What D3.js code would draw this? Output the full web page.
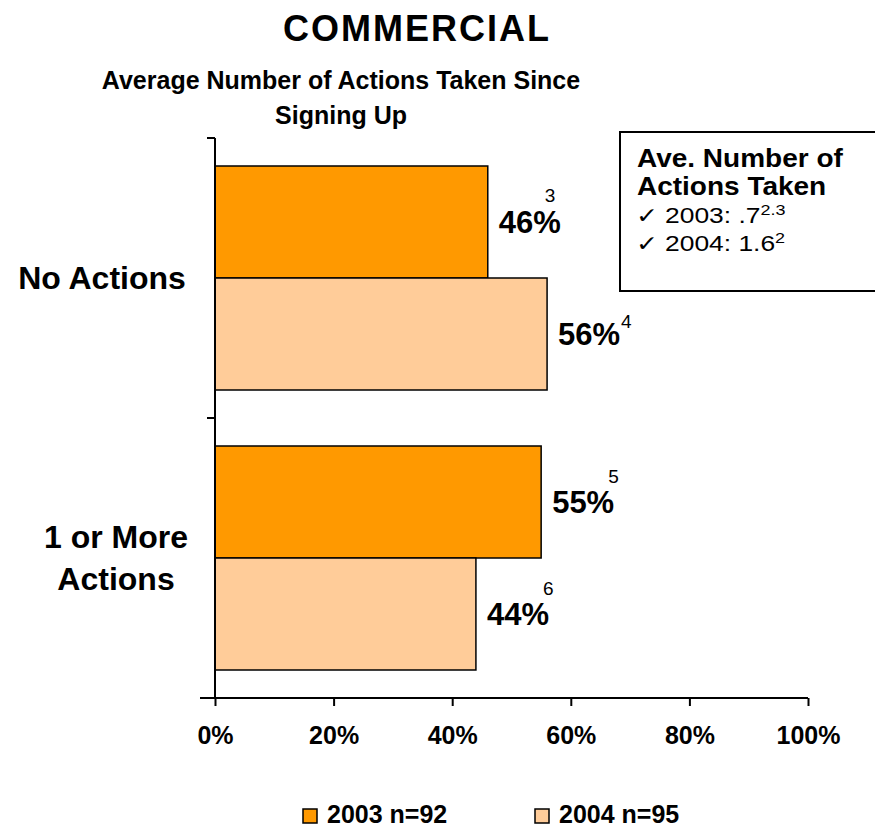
<!DOCTYPE html>
<html>
<head>
<meta charset="utf-8">
<script src="https://cdn.jsdelivr.net/npm/d3@7"></script>
<style>
  html, body { margin: 0; padding: 0; background: #fff; }
  svg { display: block; font-family: Arial, "Liberation Sans", sans-serif; }
</style>
</head>
<body>
<svg id="chart" width="875" height="829"></svg>
<script>
// Chart data
const categories = ["No Actions", "1 or More Actions"];
const categoryLines = [["No Actions"], ["1 or More", "Actions"]];
const seriesNames = ["2003 n=92", "2004 n=95"];
const values2003 = [46, 55];
const values2004 = [56, 44];
const footnotes2003 = ["3", "5"];
const footnotes2004 = ["4", "6"];
const xTicks = [0, 20, 40, 60, 80, 100];
const noteLines = ["2003:  .7", "2004:  1.6"];
const noteSups = ["2.3", "2"];

// Styling / layout
const seriesColors = ["#FF9900", "#FFCC99"];
// footnote marker offsets relative to each value label: [dx from label start, dy from label baseline]
const footnoteOffsets2003 = [[46, -31], [56, -30]];
const footnoteOffsets2004 = [[63, -17], [56, -30]];

const svg = d3.select("#chart");
const margin = { left: 215, right: 67, top: 138, bottom: 131 };
const W = 875, H = 829;
const plotW = W - margin.left - margin.right;
const plotH = H - margin.top - margin.bottom;
const g = svg.append("g").attr("transform", `translate(${margin.left},${margin.top})`);

const x = d3.scaleLinear().domain([0, 100]).range([0, plotW]);
const y0 = d3.scaleBand().domain(categories).range([0, plotH]).paddingInner(0.2).paddingOuter(0.1);
const y1 = d3.scaleBand().domain(seriesNames).range([0, y0.bandwidth()]);

// Titles
svg.append("text").attr("x", 417).attr("y", 41).attr("text-anchor", "middle")
  .style("font-size", "36px").style("font-weight", "bold").style("letter-spacing", "2px")
  .text("COMMERCIAL");
svg.append("text").attr("x", 341).attr("y", 89).attr("text-anchor", "middle")
  .style("font-size", "25px").style("font-weight", "bold").text("Average Number of Actions Taken Since");
svg.append("text").attr("x", 341).attr("y", 124).attr("text-anchor", "middle")
  .style("font-size", "25px").style("font-weight", "bold").text("Signing Up");

// Bars
const rows = categories.map((c, i) => ({
  cat: c,
  items: [
    { s: seriesNames[0], v: values2003[i], fn: footnotes2003[i], off: footnoteOffsets2003[i], color: seriesColors[0] },
    { s: seriesNames[1], v: values2004[i], fn: footnotes2004[i], off: footnoteOffsets2004[i], color: seriesColors[1] }
  ]
}));

const grp = g.selectAll("g.cat").data(rows).join("g")
  .attr("class", "cat")
  .attr("transform", d => `translate(0,${y0(d.cat)})`);

grp.selectAll("rect").data(d => d.items).join("rect")
  .attr("x", 0)
  .attr("y", d => y1(d.s))
  .attr("width", d => x(d.v))
  .attr("height", y1.bandwidth())
  .attr("fill", d => d.color)
  .attr("stroke", "#000")
  .attr("stroke-width", 1.5);

// Value labels with footnote markers
const lbl = grp.selectAll("g.lbl").data(d => d.items).join("g").attr("class", "lbl");
const lx = d => x(d.v) + 11;
const ly = d => y1(d.s) + y1.bandwidth() / 2 + 11;
lbl.append("text")
  .attr("x", lx).attr("y", ly)
  .style("font-size", "31px").style("font-weight", "bold")
  .text(d => d.v + "%");
lbl.append("text")
  .attr("x", d => lx(d) + d.off[0])
  .attr("y", d => ly(d) + d.off[1])
  .style("font-size", "19px")
  .text(d => d.fn);

// X axis
const xAxis = g.append("g").attr("transform", `translate(0,${plotH})`)
  .call(d3.axisBottom(x).tickValues(xTicks).tickFormat(d => d + "%").tickSize(8).tickPadding(20));
xAxis.select(".domain").attr("stroke", "#000").attr("stroke-width", 2).attr("d", `M-15,0H${plotW}`);
xAxis.selectAll(".tick line").attr("stroke", "#000").attr("stroke-width", 2);
xAxis.selectAll(".tick text").attr("fill", "#000")
  .style("font-size", "25px").style("font-weight", "bold")
  .style("font-family", "Arial, 'Liberation Sans', sans-serif");

// Y axis: line with ticks at category boundaries
g.append("line").attr("x1", 0).attr("x2", 0).attr("y1", 0).attr("y2", plotH)
  .attr("stroke", "#000").attr("stroke-width", 2);
g.selectAll("line.ytick").data(d3.range(categories.length + 1)).join("line")
  .attr("class", "ytick")
  .attr("x1", -8).attr("x2", 0)
  .attr("y1", i => i * plotH / categories.length)
  .attr("y2", i => i * plotH / categories.length)
  .attr("stroke", "#000").attr("stroke-width", 2);

// Category labels
categories.forEach((c, i) => {
  const lines = categoryLines[i];
  const cy = margin.top + y0(c) + y0.bandwidth() / 2;
  const lh = 42;
  const t = svg.append("text").attr("text-anchor", "middle")
    .style("font-size", "32px").style("font-weight", "bold");
  lines.forEach((ln, j) => {
    t.append("tspan").attr("x", i === 0 ? 102 : 116)
      .attr("y", cy + 11 + (j - (lines.length - 1) / 2) * lh)
      .text(ln);
  });
});

// Note box
const box = svg.append("g");
box.append("rect").attr("x", 620).attr("y", 132).attr("width", 270).attr("height", 159)
  .attr("fill", "#fff").attr("stroke", "#000").attr("stroke-width", 2);
const boxText = box.append("g").attr("transform", "translate(637,0) scale(1.12,1)");
boxText.append("text").attr("x", 0).attr("y", 167).style("font-size", "25px").style("font-weight", "bold")
  .text("Ave. Number of");
boxText.append("text").attr("x", 0).attr("y", 195).style("font-size", "25px").style("font-weight", "bold")
  .text("Actions Taken");
const noteText = box.append("g").attr("transform", "translate(636,0) scale(1.2,1)");
noteLines.forEach((ln, i) => {
  const t = noteText.append("text").attr("x", 0).attr("y", 223 + i * 28).style("font-size", "22px");
  t.append("tspan").text("\u2713  " + ln);
  t.append("tspan").attr("dy", -8).style("font-size", "15px").text(noteSups[i]);
});

// Legend
const leg = svg.append("g");
seriesNames.forEach((s, i) => {
  const lx0 = 303 + i * 232;
  leg.append("rect").attr("x", lx0).attr("y", 809).attr("width", 14).attr("height", 14)
    .attr("fill", seriesColors[i]).attr("stroke", "#000").attr("stroke-width", 1.5);
  leg.append("text").attr("x", lx0 + 24).attr("y", 823)
    .style("font-size", "25px").style("font-weight", "bold").text(s);
});
</script>
</body>
</html>
